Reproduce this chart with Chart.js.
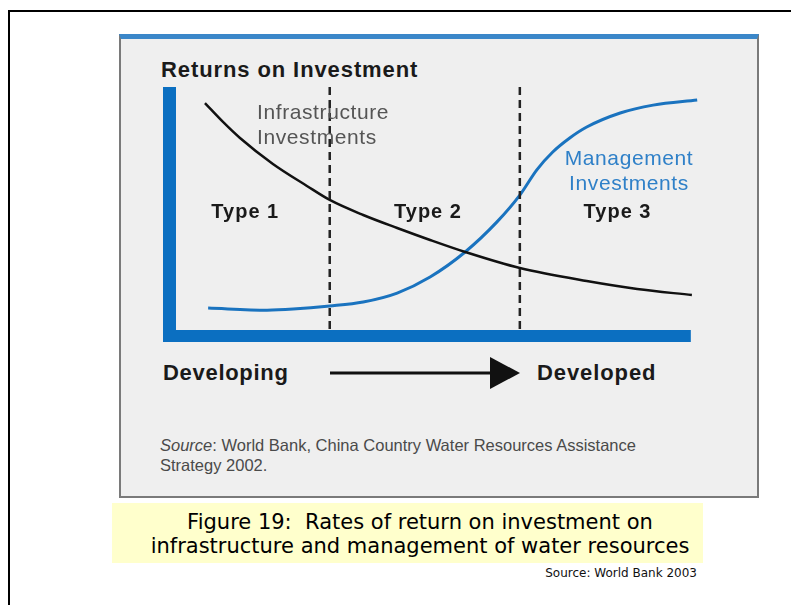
<!DOCTYPE html>
<html>
<head>
<meta charset="utf-8">
<script src="https://cdn.jsdelivr.net/npm/chart.js@4/dist/chart.umd.min.js"></script>
<style>
  body { margin: 0; background: #fff; width: 791px; height: 605px; overflow: hidden; position: relative; font-family: "Liberation Sans", Arial, sans-serif; }
  .frame { position: absolute; left: 8px; top: 10px; width: 800px; height: 600px; border-left: 2px solid #000; border-top: 2px solid #000; }
  .panel { position: absolute; left: 119px; top: 34px; width: 636px; height: 457px; background: #efefef;
           border: 2px solid #7a7a7a; border-top: 5px solid #3b87c9; }
  .t { position: absolute; white-space: nowrap; }
  .bold { font-weight: bold; color: #1a1a1a; }
  #chart { position: absolute; left: 0; top: 0; }
  .caption { position: absolute; left: 112px; top: 503px; width: 591px; height: 60px; background: #ffffcc;
             font-family: "Comic Sans MS", "DejaVu Sans", sans-serif; font-size: 21px; line-height: 24px;
             text-align: center; color: #000; padding: 7px 0 0 25px; box-sizing: border-box; white-space: nowrap; }
</style>
</head>
<body>
<div class="frame"></div>
<div class="panel"></div>

<div class="t bold" style="left:161px; top:57px; font-size:22px; line-height:26px; letter-spacing:0.9px;">Returns on Investment</div>

<div class="t bold" style="left:163px; top:360px; font-size:22px; line-height:26px; letter-spacing:0.7px;">Developing</div>
<div class="t bold" style="left:537px; top:360px; font-size:22px; line-height:26px; letter-spacing:0.9px;">Developed</div>
<svg class="t" style="left:320px; top:350px;" width="210" height="46">
  <line x1="10" y1="23" x2="175" y2="23" stroke="#111" stroke-width="3"/>
  <polygon points="170,7 200,23 170,39" fill="#111"/>
</svg>

<div class="t" style="left:160px; top:435px; font-size:16.5px; line-height:20px; color:#4a4a4a;"><i>Source</i>: World Bank, China Country Water Resources Assistance<br>Strategy 2002.</div>

<div class="caption">Figure 19:&nbsp; Rates of return on investment on<br>infrastructure and management of water resources</div>
<div class="t" style="right:94px; top:566px; font-family:'Comic Sans MS','DejaVu Sans',sans-serif; font-size:12px; line-height:14px; color:#111;">Source: World Bank 2003</div>

<canvas id="chart" width="791" height="605"></canvas>

<script>
// x runs from developing (0) to developed (100); y is return on investment
const infraX = [7.9, 11.3, 14.5, 20.7, 27.1, 31.4, 37.7, 44.1, 50.3, 56.9, 67.2, 79.8, 89.3, 99.6];
const infraY = [93.7, 86.3, 80.0, 69.8, 61.2, 55.7, 49.8, 44.7, 40.0, 35.3, 29.0, 23.9, 20.8, 18.4];

const mgmtX = [8.5, 19.6, 24.5, 31.4, 37.7, 44.1, 50.3, 56.9, 62.9, 67.2, 70.4, 73.4, 76.6, 79.8, 86.1, 92.3, 100.6];
const mgmtY = [13.3, 12.5, 12.9, 14.1, 15.7, 19.2, 25.5, 35.3, 47.1, 57.6, 67.5, 74.5, 80.0, 84.3, 89.8, 92.9, 94.9];

// stage boundaries (Type 1 | Type 2 | Type 3)
const boundaries = [31.4, 67.2];
const stageLabels = ['Type 1', 'Type 2', 'Type 3'];
const stageLabelX = [15.5, 49.9, 85.6];
const stageLabelY = 50.6;

const infraLabel = ['Infrastructure', 'Investments'];
const mgmtLabel = ['Management', 'Investments'];

function toPoints(xs, ys) {
    return xs.map((x, i) => ({ x: x, y: ys[i] }));
}

const boundaryDatasets = boundaries.map(b => ({
    data: [{ x: b, y: 0 }, { x: b, y: 101 }],
    borderColor: '#222',
    borderWidth: 2.5,
    borderDash: [8, 5],
    pointRadius: 0,
    clip: false
}));

// blue axis bars + text labels inside the plot
const decorPlugin = {
    id: 'decor',
    afterDatasetsDraw(chart) {
        const { ctx, chartArea, scales } = chart;
        ctx.save();
        ctx.fillStyle = '#0b6fc1';
        ctx.fillRect(chartArea.left, chartArea.top, 13, chartArea.bottom - chartArea.top);
        ctx.fillRect(chartArea.left, chartArea.bottom - 12, scales.x.getPixelForValue(99.4) - chartArea.left, 12);

        ctx.textBaseline = 'middle';
        ctx.fillStyle = '#1a1a1a';
        ctx.font = 'bold 20px "Liberation Sans", Arial, sans-serif';
        ctx.letterSpacing = '1px';
        ctx.textAlign = 'center';
        stageLabels.forEach((s, i) => {
            ctx.fillText(s, scales.x.getPixelForValue(stageLabelX[i]), scales.y.getPixelForValue(stageLabelY));
        });

        ctx.font = '21px "Liberation Sans", Arial, sans-serif';
        ctx.letterSpacing = '0.6px';
        ctx.fillStyle = '#555';
        ctx.textAlign = 'left';
        ctx.fillText(infraLabel[0], 257, 113);
        ctx.fillText(infraLabel[1], 257, 138);

        ctx.fillStyle = '#2f80c8';
        ctx.textAlign = 'center';
        ctx.fillText(mgmtLabel[0], 629, 159);
        ctx.fillText(mgmtLabel[1], 629, 184);
        ctx.restore();
    }
};

function drawChart() {
    new Chart(document.getElementById('chart'), {
        type: 'line',
        data: {
            datasets: [
                ...boundaryDatasets,
                {
                    data: toPoints(infraX, infraY),
                    borderColor: '#111',
                    borderWidth: 2.5,
                    pointRadius: 0,
                    cubicInterpolationMode: 'monotone',
                    clip: false
                },
                {
                    data: toPoints(mgmtX, mgmtY),
                    borderColor: '#1a73bf',
                    borderWidth: 3,
                    pointRadius: 0,
                    cubicInterpolationMode: 'monotone',
                    clip: false
                }
            ]
        },
        options: {
            responsive: false,
            animation: false,
            layout: { padding: { left: 163, right: 97, top: 87, bottom: 263 } },
            plugins: { legend: { display: false }, tooltip: { enabled: false } },
            scales: {
                x: { type: 'linear', min: 0, max: 100, display: false },
                y: { min: 0, max: 100, display: false }
            }
        },
        plugins: [decorPlugin]
    });
}

// canvas text needs the fonts loaded first
Promise.all([
    document.fonts.load('bold 20px "Liberation Sans"'),
    document.fonts.load('21px "Liberation Sans"')
]).then(drawChart, drawChart);
</script>
</body>
</html>
